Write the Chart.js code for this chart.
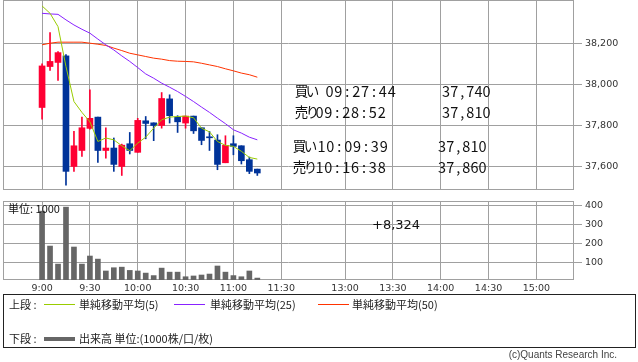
<!DOCTYPE html>
<html>
<head>
<meta charset="utf-8">
<script src="https://cdn.jsdelivr.net/npm/chart.js@4.4.1/dist/chart.umd.min.js"></script>
<style>
  body { margin: 0; background: #fff; width: 638px; height: 362px; position: relative; overflow: hidden; }
  #priceBox { position: absolute; left: 0; top: 0; }
  #volBox { position: absolute; left: 0; top: 195px; }
  #legend { position: absolute; left: 3px; top: 294px; width: 633px; height: 54px; box-sizing: border-box;
            border: 1px solid #222; font-family: "Noto Sans CJK JP", sans-serif; font-size: 11px; color: #222; }
  #legend .t { position: absolute; line-height: 14px; white-space: nowrap; }
  #legend .ln { position: absolute; height: 1px; }
  #copy { position: absolute; right: 21px; top: 349px; font-family: "Liberation Sans", sans-serif; font-size: 10px;
          color: #444; }
</style>
</head>
<body>
<div id="priceBox"><canvas id="price" width="638" height="195"></canvas></div>
<div id="volBox"><canvas id="vol" width="638" height="105"></canvas></div>
<div id="legend">
  <span class="t" style="left:5px;top:2px">上段 :</span>
  <span class="ln" style="left:40px;top:9px;width:31px;background:#99cc00"></span>
  <span class="t" style="left:75px;top:2px">単純移動平均(5)</span>
  <span class="ln" style="left:170px;top:9px;width:31px;background:#8822ff"></span>
  <span class="t" style="left:206px;top:2px">単純移動平均(25)</span>
  <span class="ln" style="left:314px;top:9px;width:31px;background:#ff3300"></span>
  <span class="t" style="left:348px;top:2px">単純移動平均(50)</span>
  <span class="t" style="left:5px;top:36px">下段 :</span>
  <span class="ln" style="left:40px;top:42px;width:31px;height:4px;background:#666"></span>
  <span class="t" style="left:75px;top:36px">出来高 単位:(1000株/口/枚)</span>
</div>
<div id="copy">(c)Quants Research Inc.</div>
<script>
// 5分足 (9:00 - 11:15)
const times = ['9:00','9:05','9:10','9:15','9:20','9:25','9:30','9:35','9:40','9:45','9:50','9:55',
  '10:00','10:05','10:10','10:15','10:20','10:25','10:30','10:35','10:40','10:45','10:50','10:55',
  '11:00','11:05','11:10','11:15'];
const open  = [37886,38086,38106,38138,37598,37676,37784,37839,37676,37688,37598,37709,
  37667,37821,37811,37798,37928,37839,37810,37844,37787,37741,37727,37616,37709,37699,37631,37585];
const high  = [38099,38252,38159,38145,37769,37839,37972,37839,37787,37737,37707,37764,
  37833,37842,37811,37959,37948,37846,37844,37844,37787,37769,37753,37748,37748,37699,37644,37585];
const low   = [37829,38067,38018,37506,37574,37647,37780,37618,37639,37574,37554,37659,
  37667,37733,37724,37785,37810,37764,37785,37759,37704,37676,37582,37616,37655,37610,37563,37554];
const close = [38089,38111,38154,37574,37699,37787,37833,37676,37688,37608,37702,37676,
  37823,37808,37798,37930,37846,37816,37844,37772,37725,37738,37608,37701,37696,37626,37574,37566];
const ma5  = [38382,38346,38281,38086,37915,37862,37816,37720,37737,37728,37699,37675,
  37712,37741,37785,37826,37839,37842,37844,37836,37785,37767,37720,37701,37696,37672,37642,37634];
const ma25 = [38346,38343,38341,38314,38289,38268,38249,38220,38192,38167,38138,38111,
  38081,38050,38029,38005,37985,37964,37940,37915,37888,37862,37834,37807,37777,37761,37741,37728];
const ma50 = [38192,38200,38205,38205,38205,38205,38200,38195,38189,38176,38164,38151,
  38143,38135,38127,38122,38115,38112,38111,38109,38102,38094,38086,38075,38065,38054,38046,38034];
// 出来高 (単位:1000)
const volume = [369,187,93,390,182,93,135,119,57,74,77,60,57,46,33,72,51,51,27,31,36,41,83,51,33,27,57,20];

const timeTicks  = ['9:00','9:30','10:00','10:30','11:00','11:30','13:00','13:30','14:00','14:30','15:00'];
const priceTicks = [37600, 37800, 38000, 38200];
const volTicks   = [100, 200, 300, 400];

const tradeKind  = ['買い','売り','買い','売り'];
const tradeTime  = ['09:27:44','09:28:52','10:09:39','10:16:38'];
const tradePrice = [37740, 37810, 37810, 37860];
const netVolume  = 8324;

// 前場と後場の間は少しだけ詰める
function toX(t) {
  const [h, m] = t.split(':').map(Number);
  let v = h * 60 + m - 540;
  if (h >= 12) v -= 50;
  return v;
}
const xs = times.map(toX);
const upDown = open.map((o, i) => close[i] >= o ? '#ff0033' : '#003399');

Chart.defaults.font.family = 'DejaVu Sans';
Chart.defaults.animation = false;

const gridColor = '#a0a0a0';

function xScale(showLabels, height) {
  return {
    type: 'linear', min: -24.5, max: 333.6, offset: false,
    afterBuildTicks: s => { s.ticks = timeTicks.map(t => ({ value: toX(t) })); },
    afterFit: s => { s.height = height; s.paddingLeft = 0; s.paddingRight = 0; },
    ticks: { display: showLabels, autoSkip: false, maxRotation: 0, padding: 3, color: '#333',
             font: { size: 9.5 }, callback: (v, i) => timeTicks[i] },
    grid: { color: gridColor, drawTicks: false, offset: false },
    border: { display: false }
  };
}
function yScale(min, max, ticks, fmt) {
  return {
    position: 'right', min: min, max: max,
    afterBuildTicks: s => { s.ticks = ticks.map(v => ({ value: v })); },
    afterFit: s => { s.width = 64; s.paddingTop = 0; s.paddingBottom = 0; },
    ticks: { padding: 3, color: '#333', font: { size: 9.5 }, callback: fmt },
    grid: { color: gridColor, tickLength: 8 },
    border: { display: false }
  };
}

const frame = {
  id: 'frame',
  beforeDatasetsDraw(c) {
    const a = c.chartArea, ctx = c.ctx;
    ctx.save();
    ctx.strokeStyle = gridColor;
    ctx.lineWidth = 1;
    ctx.strokeRect(Math.round(a.left) + 0.5, Math.round(a.top) + 0.5,
                   Math.round(a.right - a.left) - 1, Math.round(a.bottom - a.top) - 1);
    ctx.restore();
  }
};

function spaced(ctx, text, x, y, pitch) {
  for (let i = 0; i < text.length; i++) ctx.fillText(text[i], x + (i + 0.5) * pitch, y);
}

const tradeNotes = {
  id: 'tradeNotes',
  afterDraw(c) {
    const ctx = c.ctx;
    // kind x, time x, price x, row y
    const rows = [[297, 325, 442, 91], [297, 315, 442, 112], [295, 317, 438, 146], [295, 315, 438, 167]];
    ctx.save();
    ctx.fillStyle = '#111';
    ctx.textBaseline = 'middle';
    ctx.textAlign = 'center';
    tradeKind.forEach((k, i) => {
      const [kx, tx, px, y] = rows[i];
      ctx.font = '13.5px "Noto Sans CJK JP"';
      spaced(ctx, k, kx - 1, y, 11);
      ctx.font = '14.5px "Noto Sans CJK JP"';
      spaced(ctx, tradeTime[i], tx, y, 8.9);
      spaced(ctx, tradePrice[i].toLocaleString('en-US'), px, y, 8.1);
    });
    ctx.restore();
  }
};

const volNotes = {
  id: 'volNotes',
  afterDraw(c) {
    const ctx = c.ctx;
    ctx.save();
    ctx.fillStyle = '#111';
    ctx.textBaseline = 'middle';
    ctx.font = '11px "Noto Sans CJK JP"';
    ctx.fillText('単位: 1000', 8, 14);
    ctx.font = '13px "DejaVu Sans"';
    ctx.fillText('+' + netVolume.toLocaleString('en-US'), 372, 31);
    ctx.restore();
  }
};

const line = (vals, color) => ({
  type: 'line', data: vals.map((v, i) => ({ x: xs[i], y: v })),
  borderColor: color, borderWidth: 1, pointRadius: 0, tension: 0, order: 0
});

new Chart(document.getElementById('price'), {
  type: 'bar',
  data: {
    datasets: [
      line(ma5, '#99cc00'),
      line(ma25, '#8822ff'),
      line(ma50, '#ff3300'),
      { data: xs.map((x, i) => ({ x: x, y: [open[i], close[i]] })), backgroundColor: upDown,
        barThickness: 6, minBarLength: 1, grouped: false, order: 1 },
      { data: xs.map((x, i) => ({ x: x, y: [low[i], high[i]] })), backgroundColor: upDown,
        barThickness: 1, grouped: false, order: 2 }
    ]
  },
  options: {
    responsive: false,
    layout: { padding: { left: 3, top: 0, right: 0, bottom: 0 } },
    plugins: { legend: { display: false }, tooltip: { enabled: false } },
    scales: {
      x: xScale(false, 5),
      y: yScale(37483, 38411, priceTicks, v => v.toLocaleString('en-US'))
    }
  },
  plugins: [frame, tradeNotes]
});

new Chart(document.getElementById('vol'), {
  type: 'bar',
  data: {
    datasets: [
      { data: xs.map((x, i) => ({ x: x, y: volume[i] })), backgroundColor: '#666666',
        barThickness: 5, grouped: false }
    ]
  },
  options: {
    responsive: false,
    layout: { padding: { left: 3, top: 6, right: 0, bottom: 0 } },
    plugins: { legend: { display: false }, tooltip: { enabled: false } },
    scales: {
      x: xScale(true, 20),
      y: yScale(10, 422, volTicks, v => v)
    }
  },
  plugins: [frame, volNotes]
});
</script>
</body>
</html>
